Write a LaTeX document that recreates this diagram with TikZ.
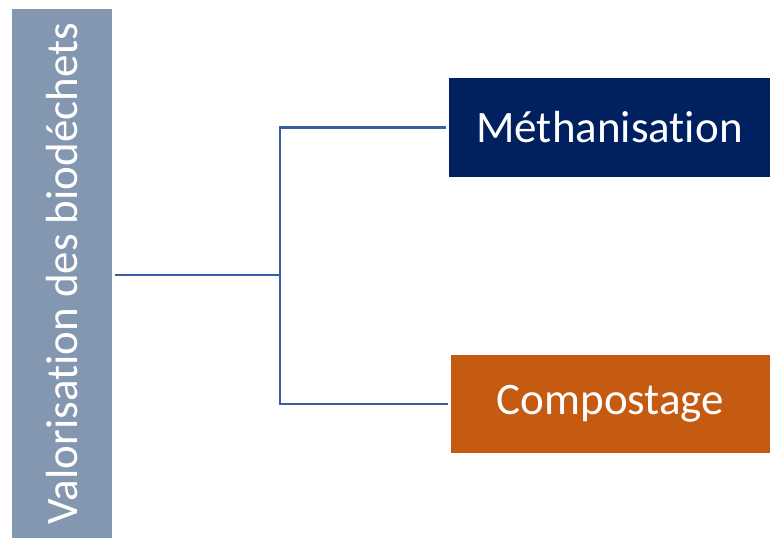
\documentclass[tikz,border=0pt]{standalone}
\usepackage{fontspec}
\setmainfont[Ligatures=NoCommon]{Carlito}
\usepackage{xcolor}
\definecolor{barblue}{HTML}{8497B0}
\definecolor{navy}{HTML}{002060}
\definecolor{rust}{HTML}{C55A11}
\definecolor{linkblue}{HTML}{3A5DA6}
\begin{document}
\begin{tikzpicture}[x=1pt,y=-1pt,
				link/.style={draw=linkblue,line width=2.6pt},
				main node/.style={rectangle,inner sep=0pt,text=white,font=\fontsize{45}{54}\selectfont}]
				
				\useasboundingbox (0,0) rectangle (770,538);
				\node[main node,fill=barblue,rotate=90,minimum width=529pt,minimum height=100pt] (bar) at (62,273.5) {Valorisation des biodéchets};
				\node[main node,fill=navy,minimum width=321pt,minimum height=99pt] (methan) at (609.5,127.5) {Méthanisation};
				\node[main node,fill=rust,minimum width=319pt,minimum height=98pt] (compost) at (610.5,404) {Compostage};
				\coordinate (split) at (280,275);
				
				\draw[link,shorten <=3pt] (bar.south |- split) -- (split);
				\draw[link,shorten >=3pt] (split) |- (methan.west);
				\draw[link,shorten >=3pt] (split) |- (compost.west);
				\end{tikzpicture}
\end{document}
